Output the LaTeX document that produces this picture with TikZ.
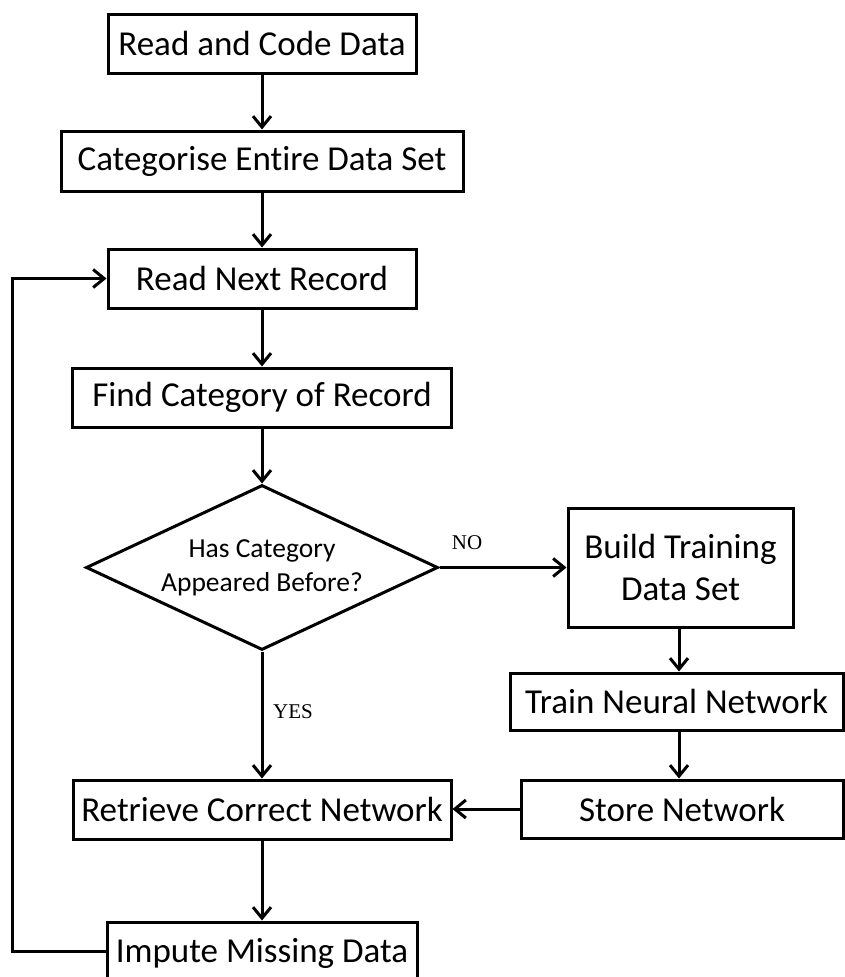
\documentclass[tikz,border=0pt]{standalone}
\usepackage{fontspec}
\setmainfont[Ligatures=NoCommon]{Carlito}
\newfontfamily\labelfont{Liberation Serif}
\usetikzlibrary{shapes.geometric,arrows.meta}
\begin{document}
\begin{tikzpicture}[x=1pt,y=-1pt,
  line width=3pt,
  box/.style={draw, rectangle, inner sep=0pt, align=center,
    font=\fontsize{35}{42}\selectfont},
  decision/.style={draw, diamond, inner sep=0pt, aspect=2.133},
  decisiontext/.style={align=center, font=\fontsize{27.5}{34}\selectfont},
  flow/.style={-{Straight Barb[length=11pt,width=18pt]}},
  branch/.style={font=\labelfont\fontsize{21}{22}\selectfont}]
\useasboundingbox (0,0) rectangle (845,977);

\node[box, minimum width=308, minimum height=59] (read)  at (262,43.5) {Read and Code Data};
\node[box, minimum width=402, minimum height=60] (cat)   at (262,161) {Categorise Entire Data Set};
\node[box, minimum width=308, minimum height=59] (next)  at (262,278.5) {Read Next Record};
\node[box, minimum width=379, minimum height=59] (find)  at (262,397.5) {Find Category of Record};
\node[decision, minimum width=352, minimum height=165,
  label={[decisiontext]center:Has Category\\Appeared Before?}] (has) at (262,567.5) {};
\node[box, minimum width=225, minimum height=119] (build) at (680.5,567.5) {Build Training\\Data Set};
\node[box, minimum width=333, minimum height=57] (train) at (676.5,701.5) {Train Neural Network};
\node[box, minimum width=322, minimum height=58] (store) at (682,809) {Store Network};
\node[box, minimum width=378, minimum height=59] (retr)  at (262,809.5) {Retrieve Correct Network};
\node[box, minimum width=310, minimum height=62] (imp)   at (262,953) {Impute Missing Data};

\coordinate (loopbot) at (12,951);
\coordinate (looptop) at (12,278.5);

\draw[flow] (read) -- (cat);
\draw[flow] (cat) -- (next);
\draw[flow] (next) -- (find);
\draw[flow] (find) -- (has);
\draw[flow] (has.east) -- (build.west);
\draw[flow] (has.south) -- (retr.north);
\draw[flow] ([xshift=-1.5pt]build.south) -- ([xshift=-1.5pt]build.south |- train.north);
\draw[flow] ([xshift=-1.5pt]build.south |- train.south) -- ([xshift=-1.5pt]build.south |- store.north);
\draw[flow] (store.west) -- (store.west -| retr.east);
\draw[flow] (retr) -- (imp);
\draw[flow] (imp.west |- loopbot) -- (loopbot) -- (looptop) -- (next.west);

\node[branch] (no)  at (467,543) {NO};
\node[branch] (yes) at (293,712) {YES};
\end{tikzpicture}
\end{document}
